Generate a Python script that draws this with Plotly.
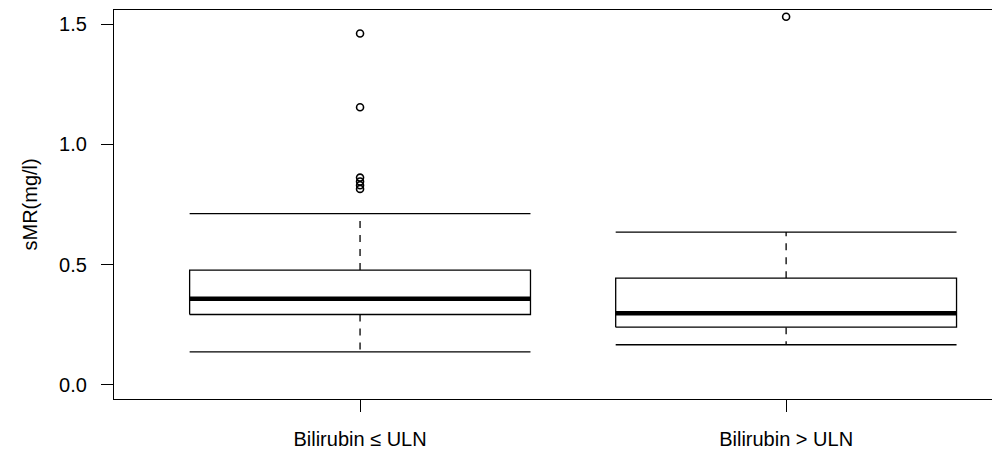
import plotly.graph_objects as go

# ---- data ----
categories = ["Bilirubin ≤ ULN", "Bilirubin > ULN"]
positions = [1, 2]
lower_whisker = [0.136, 0.166]
q1 = [0.292, 0.239]
median = [0.357, 0.297]
q3 = [0.477, 0.443]
upper_whisker = [0.712, 0.635]
outliers = [
    [1.462, 1.155, 0.862, 0.846, 0.830, 0.815],
    [1.532],
]
y_ticks = [0.0, 0.5, 1.0, 1.5]
y_tick_labels = ["0.0", "0.5", "1.0", "1.5"]
y_title = "sMR(mg/l)"

half_w = 0.4
FONT = "Liberation Sans, Arial, Helvetica, sans-serif"
LW = 1.3
OFF = 8  # page body margin of the browser

fig = go.Figure()
for i, p in enumerate(positions):
    # whiskers (dashed)
    fig.add_trace(go.Scatter(x=[p, p], y=[q3[i], upper_whisker[i]], mode="lines",
                             line=dict(color="black", width=LW, dash="7px,7px"), hoverinfo="skip"))
    fig.add_trace(go.Scatter(x=[p, p], y=[q1[i], lower_whisker[i]], mode="lines",
                             line=dict(color="black", width=LW, dash="7px,7px"), hoverinfo="skip"))
    # staples
    for v in (upper_whisker[i], lower_whisker[i]):
        fig.add_trace(go.Scatter(x=[p - half_w, p + half_w], y=[v, v], mode="lines",
                                 line=dict(color="black", width=LW), hoverinfo="skip"))
    # box
    fig.add_trace(go.Scatter(x=[p - half_w, p + half_w, p + half_w, p - half_w, p - half_w],
                             y=[q1[i], q1[i], q3[i], q3[i], q1[i]], mode="lines",
                             fill="toself", fillcolor="white",
                             line=dict(color="black", width=LW), hoverinfo="skip"))
    # median
    fig.add_trace(go.Scatter(x=[p - half_w, p + half_w], y=[median[i], median[i]], mode="lines",
                             line=dict(color="black", width=4.5), hoverinfo="skip"))
    # outliers
    fig.add_trace(go.Scatter(x=[p] * len(outliers[i]), y=outliers[i], mode="markers",
                             marker=dict(symbol="circle-open", size=7, color="black",
                                         line=dict(width=1.6, color="black")),
                             hoverinfo="skip"))

fig.update_layout(
    width=1000 - OFF, height=450 - OFF,
    margin=dict(l=114 - OFF, r=0, t=10 - OFF, b=49, pad=0),
    paper_bgcolor="white", plot_bgcolor="white",
    showlegend=False,
    font=dict(family=FONT, size=20, color="black"),
    xaxis=dict(range=[0.4225, 2.502], tickmode="array", tickvals=positions, ticktext=categories,
               ticks="outside", ticklen=12, tickwidth=LW, tickcolor="black",
               showline=True, linecolor="black", linewidth=LW, mirror=True,
               showgrid=False, zeroline=False, ticklabelstandoff=10,
               tickfont=dict(family=FONT, size=20, color="black")),
    yaxis=dict(range=[-0.06, 1.56], tickmode="array", tickvals=y_ticks, ticktext=y_tick_labels,
               ticks="outside", ticklen=12, tickwidth=LW, tickcolor="black",
               showline=True, linecolor="black", linewidth=LW, mirror=False,
               showgrid=False, zeroline=False, ticklabelstandoff=10,
               tickfont=dict(family=FONT, size=20, color="black")),
    annotations=[dict(text=y_title, xref="paper", yref="paper", x=(29 - 114) / 886, y=0.5,
                      xanchor="center", yanchor="middle", textangle=-90, showarrow=False,
                      font=dict(family=FONT, size=20, color="black"))],
)

fig.write_html("out.html")
